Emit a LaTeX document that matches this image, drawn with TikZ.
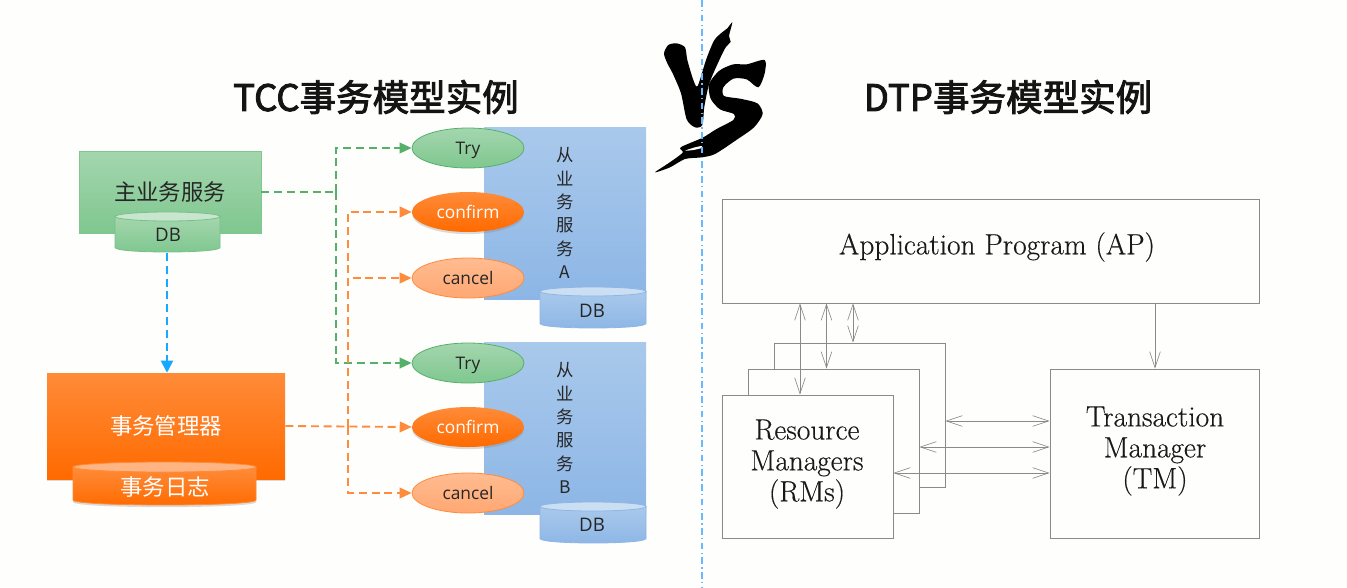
\documentclass[tikz,border=0pt]{standalone}
\usepackage{fontspec}
\usetikzlibrary{arrows.meta,shapes.geometric,shadows}
\setmainfont{Latin Modern Roman}
\newfontfamily\cjk{Noto Sans CJK SC}
\newfontfamily\cjkt[FakeBold=2.4]{Noto Sans CJK SC}
\newfontfamily\lat{Open Sans}
\newfontfamily\serifb[FakeBold=0.35]{Latin Modern Roman}
\def\pxu{0.75pt}
\definecolor{bgc}{HTML}{FEFEFC}
\definecolor{gline}{HTML}{55B06A}
\definecolor{oline}{HTML}{FF8B3D}
\definecolor{bline}{HTML}{18A8FF}
\definecolor{grayl}{HTML}{8A8A8A}
\definecolor{GT}{HTML}{A4D6AE}
\definecolor{GB}{HTML}{7FC78F}
\definecolor{BT}{HTML}{A9C9EB}
\definecolor{BB}{HTML}{8DB6E6}
\definecolor{OT}{HTML}{FF8B38}
\definecolor{OB}{HTML}{FF6A00}
\definecolor{CT}{HTML}{FFBC90}
\definecolor{CB}{HTML}{FFA773}
\tikzset{
  x=0.75pt,y=-0.75pt,
  softshadow/.style={drop shadow={shadow xshift=0pt,shadow yshift=-1.6pt,opacity=.28}},
  titletext/.style={font=\cjkt\fontsize{27.4}{32}\selectfont,inner sep=0,text=black!92},
  cjklabel/.style={font=\cjk\fontsize{16.8}{20}\selectfont,inner sep=0},
  vertlabel/.style={font=\cjk\fontsize{13}{17.55}\selectfont,align=center,inner sep=0},
  dblabel/.style={font=\lat\fontsize{14}{16}\selectfont,inner sep=0},
  ovaltext/.style={font=\lat\fontsize{13}{15}\selectfont,inner sep=0,text height=10pt,text depth=0pt},
  mainbox/.style={rectangle,inner sep=0},
  oval/.style={ellipse,inner sep=0,minimum width=112*\pxu,minimum height=40*\pxu},
  tryoval/.style={oval,top color=GT,bottom color=GB,draw=gline,line width=.6pt,text=black!85},
  confirmoval/.style={oval,top color=OT,bottom color=OB,softshadow,text=white},
  canceloval/.style={oval,top color=CT,bottom color=CB,draw=oline,line width=.6pt,text=black!85},
  dashg/.style={draw=gline,line width=1.4pt,dash pattern=on 6pt off 3.6pt},
  dasho/.style={draw=oline,line width=1.4pt,dash pattern=on 6pt off 3.6pt},
  dashb/.style={draw=bline,line width=1.4pt,dash pattern=on 6pt off 3.6pt},
  tipg/.style={-{Triangle[length=9pt,width=8pt,fill=gline]}},
  tipo/.style={-{Triangle[length=9pt,width=8pt,fill=oline]}},
  tipb/.style={-{Triangle[length=9pt,width=9pt,fill=bline]}},
  planbox/.style={rectangle,draw=grayl,line width=.6pt,fill=bgc,inner sep=0},
  serifl/.style={font=\serifb\fontsize{22}{23.2}\selectfont,align=center,inner sep=0,text=black!90},
  thinarrow/.style={draw=grayl,line width=.5pt,{Straight Barb[length=12pt,width=8pt,line width=.45pt]}-{Straight Barb[length=12pt,width=8pt,line width=.45pt]}},
  thinone/.style={draw=grayl,line width=.5pt,-{Straight Barb[length=12pt,width=8pt,line width=.45pt]}},
}
% #1 x1, #2 x2, #3 ytop (ellipse top), #4 ybottom, #5 ry, #6 fill style, #7 cap colour, #8 border
\newcommand{\cylbody}[8]{%
  \pgfmathsetmacro{\cya}{#3+#5}%
  \pgfmathsetmacro{\cyb}{#4-#5}%
  \pgfmathsetmacro{\cyc}{#4+#5*0.33}%
  \pgfmathsetmacro{\cxm}{(#1+#2)/2}%
  \pgfmathsetmacro{\crx}{(#2-#1)/2}%
  \path[#6,draw=#8,line width=.6pt] (#1,\cya) -- (#1,\cyb) .. controls (#1,\cyc) and (#2,\cyc) .. (#2,\cyb) -- (#2,\cya) -- cycle;
  \path[fill=#7,draw=#8,line width=.6pt] (\cxm,\cya) ellipse [x radius=\crx*\pxu,y radius=#5*\pxu];
}
\begin{document}
\begin{tikzpicture}
\useasboundingbox (0,0) rectangle (1347,587);
\fill[bgc] (0,0) rectangle (1347,587);

% titles
\node[titletext] (t1) at (376,97) {TCC事务模型实例};
\node[titletext] (t2) at (1008,97) {DTP事务模型实例};

% left boxes
\node[mainbox,minimum width=182*\pxu,minimum height=82*\pxu,top color=GT,bottom color=GB,draw=GB,line width=.5pt,cjklabel,text=black!85] (main) at (170,192) {主业务服务};
\cylbody{115}{220}{212}{252}{4.5}{top color=GT,bottom color=GB}{GT!60!white}{gline!80}
\node[dblabel,text=black!85] (db0) at (168,235) {DB};

\node[mainbox,minimum width=238*\pxu,minimum height=106*\pxu,top color=OT,bottom color=OB,softshadow,cjklabel,text=white] (tm) at (166,426) {事务管理器};
\cylbody{73}{256}{462}{505}{5}{top color=OT,bottom color=OB,drop shadow={shadow xshift=0pt,shadow yshift=-1.6pt,opacity=.28}}{CT!85!OT}{OT}
\node[cjklabel,text=white] (log) at (165,487) {事务日志};

% service blocks
\node[mainbox,minimum width=162*\pxu,minimum height=172*\pxu,top color=BT,bottom color=BB,vertlabel,text=black!85] (svcA) at (565,213) {从\\业\\务\\服\\务\\A};
\node[mainbox,minimum width=162*\pxu,minimum height=172*\pxu,top color=BT,bottom color=BB,vertlabel,text=black!85] (svcB) at (565,428) {从\\业\\务\\服\\务\\B};
\cylbody{540}{646}{287}{328}{4.5}{top color=BT,bottom color=BB}{BT!60!white}{BB}
\node[dblabel,text=black!85] (dbA) at (592,311) {DB};
\cylbody{540}{646}{502}{543}{4.5}{top color=BT,bottom color=BB}{BT!60!white}{BB}
\node[dblabel,text=black!85] (dbB) at (592,525) {DB};

% ovals
\node[tryoval,ovaltext] (tryA) at (468,148) {Try};
\node[confirmoval,ovaltext] (confA) at (468,212) {confirm};
\node[canceloval,ovaltext] (canA) at (468,278) {cancel};
\node[tryoval,ovaltext] (tryB) at (468,363) {Try};
\node[confirmoval,ovaltext] (confB) at (468,427) {confirm};
\node[canceloval,ovaltext] (canB) at (468,493) {cancel};

% connectors
\coordinate (gj) at (336,192);
\coordinate (oj) at (348,427);
\coordinate (dbfoot) at (167,253);
\draw[dashg] (main.east) -- (gj);
\draw[dashg,tipg] (gj) |- (tryA.west);
\draw[dashg,tipg] (gj) |- (tryB.west);
\draw[dasho,tipo] (tm.east) -- (confB.west);
\draw[dasho,tipo] (oj) |- (confA.west);
\draw[dasho,tipo] (oj) |- (canA.west);
\draw[dasho,tipo] (oj) |- (canB.west);
\draw[dashb,tipb] (dbfoot) -- (dbfoot |- tm.north);

% right side
\node[planbox,minimum width=537*\pxu,minimum height=104*\pxu] (ap) at (990.5,251) {};
\node[planbox,minimum width=171*\pxu,minimum height=144*\pxu] (rmB) at (859.5,415) {};
\node[planbox,minimum width=171*\pxu,minimum height=144*\pxu] (rmM) at (833.5,441) {};
\node[planbox,minimum width=171*\pxu,minimum height=143*\pxu] (rmF) at (807.5,466.5) {};
\node[planbox,minimum width=209*\pxu,minimum height=169*\pxu] (tmb) at (1154.5,453.5) {};
\node[serifl] (aptext) at (997,247) {Application Program (AP)};
\node[serifl] (rmtext) at (807,464) {Resource\\Managers\\(RMs)};
\node[serifl] (tmtext) at (1155,451) {Transaction\\Manager\\(TM)};

\coordinate (v1) at (800,0);
\coordinate (v2) at (826.5,0);
\coordinate (v3) at (853,0);
\coordinate (v4) at (1155,0);
\coordinate (h1) at (0,421);
\coordinate (h2) at (0,447);
\coordinate (h3) at (0,473);
\draw[thinarrow] (ap.south -| v1) -- (rmF.north -| v1);
\draw[thinarrow] (ap.south -| v2) -- (rmM.north -| v2);
\draw[thinarrow] (ap.south -| v3) -- (rmB.north -| v3);
\draw[thinone] (ap.south -| v4) -- (tmb.north -| v4);
\draw[thinarrow] (rmB.east |- h1) -- (tmb.west |- h1);
\draw[thinarrow] (rmM.east |- h2) -- (tmb.west |- h2);
\draw[thinarrow] (rmF.east |- h3) -- (tmb.west |- h3);

% VS brush lettering
\begin{scope}[shift={(640,10)},x=0.25pt,y=-0.25pt]
\fill[black] plot[smooth cycle,tension=.45] coordinates {(72,130)(85,105)(110,100)(135,112)(142,150)(160,210)(173,228)(198,150)(222,92)(245,68)(262,55)(277,37)(267,78)(272,95)(257,112)(238,150)(208,220)(193,290)(187,345)(165,352)(140,328)(123,250)(98,190)(82,160)};
\fill[black] plot[smooth cycle,tension=.45] coordinates {(207,222)(238,182)(280,163)(320,163)(374,150)(374,190)(355,232)(320,208)(280,206)(250,232)(252,258)(300,266)(352,280)(368,312)(342,352)(292,388)(225,432)(185,442)(135,447)(90,472)(45,487)(88,458)(128,428)(122,412)(188,383)(228,358)(280,330)(282,312)(240,298)(212,266)};
\fill[bgc] plot[smooth cycle,tension=.4] coordinates {(135,422)(165,412)(185,408)(185,414)(160,420)};
\end{scope}

% centre divider
\coordinate (divtop) at (702,0);
\coordinate (divbot) at (702,587);
\draw[draw=blue!45!cyan!60!white,line width=.9pt,dash pattern=on 5pt off 2.4pt on 1.2pt off 2.4pt] (divtop) -- (divbot);
\end{tikzpicture}
\end{document}
